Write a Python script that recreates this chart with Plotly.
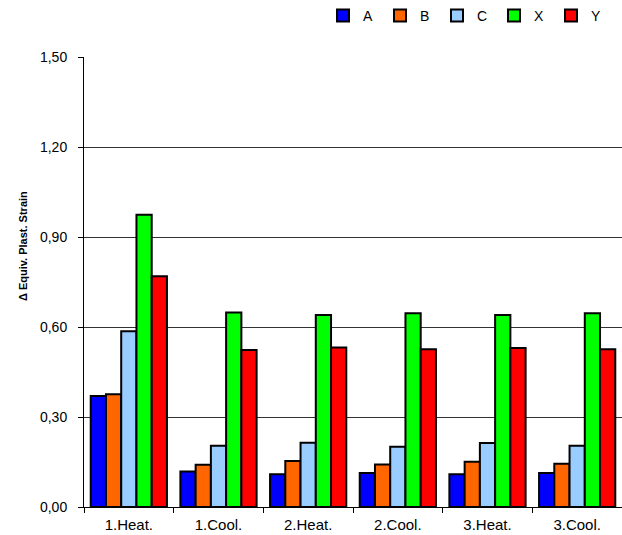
import plotly.graph_objects as go

# Load steps along the x axis
steps = ["1.Heat.", "1.Cool.", "2.Heat.", "2.Cool.", "3.Heat.", "3.Cool."]

# Equivalent plastic strain increment per series
series_a = [0.370, 0.118, 0.109, 0.113, 0.109, 0.113]
series_b = [0.376, 0.141, 0.153, 0.142, 0.151, 0.144]
series_c = [0.586, 0.204, 0.214, 0.201, 0.213, 0.204]
series_x = [0.974, 0.648, 0.640, 0.646, 0.640, 0.646]
series_y = [0.769, 0.523, 0.532, 0.526, 0.530, 0.526]

names = ["A", "B", "C", "X", "Y"]
colors = ["#0000FF", "#FF6600", "#99CCFF", "#00FF00", "#FF0000"]
values = [series_a, series_b, series_c, series_x, series_y]

y_ticks = [0.0, 0.3, 0.6, 0.9, 1.2, 1.5]

fig = go.Figure()
for name, color, vals in zip(names, colors, values):
    fig.add_trace(go.Bar(
        x=steps, y=vals, name=name,
        marker=dict(color=color, line=dict(color="black", width=2)),
    ))

font_family = "Liberation Sans, Arial, sans-serif"

fig.update_layout(
    width=622, height=535,
    margin=dict(l=84, r=0, t=57, b=28),
    paper_bgcolor="white", plot_bgcolor="white",
    separators=", ",
    barmode="group", bargap=0.15, bargroupgap=0.0,
    font=dict(family=font_family, size=14, color="black"),
    showlegend=True,
    legend=dict(
        orientation="h", x=323 / 622, xanchor="left", y=1.0, yanchor="top",
        yref="container", xref="container",
        entrywidth=12, entrywidthmode="pixels",
        font=dict(size=14, color="black"),
        itemwidth=30, tracegroupgap=0,
        bgcolor="rgba(0,0,0,0)",
    ),
    xaxis=dict(
        showline=True, linecolor="black", linewidth=1,
        ticks="outside", ticklen=5, tickcolor="black", tickson="boundaries",
        showgrid=False, tickfont=dict(size=15), automargin=False,
        ticklabelstandoff=4,
    ),
    yaxis=dict(
        range=[0, 1.5], tickvals=y_ticks, tickformat=".2f",
        showline=True, linecolor="black", linewidth=1,
        ticks="outside", ticklen=5, tickcolor="black",
        showgrid=True, gridcolor="#333333", gridwidth=1,
        zeroline=False, tickfont=dict(size=14), automargin=False,
        ticklabelstandoff=8,
    ),
    annotations=[dict(
        text="<b>Δ Equiv. Plast. Strain</b>",
        xref="paper", yref="paper", x=0, y=0.58,
        xshift=-61, xanchor="center", yanchor="middle",
        textangle=-90, showarrow=False, font=dict(size=11),
    )],
)

fig.write_html("out.html")
